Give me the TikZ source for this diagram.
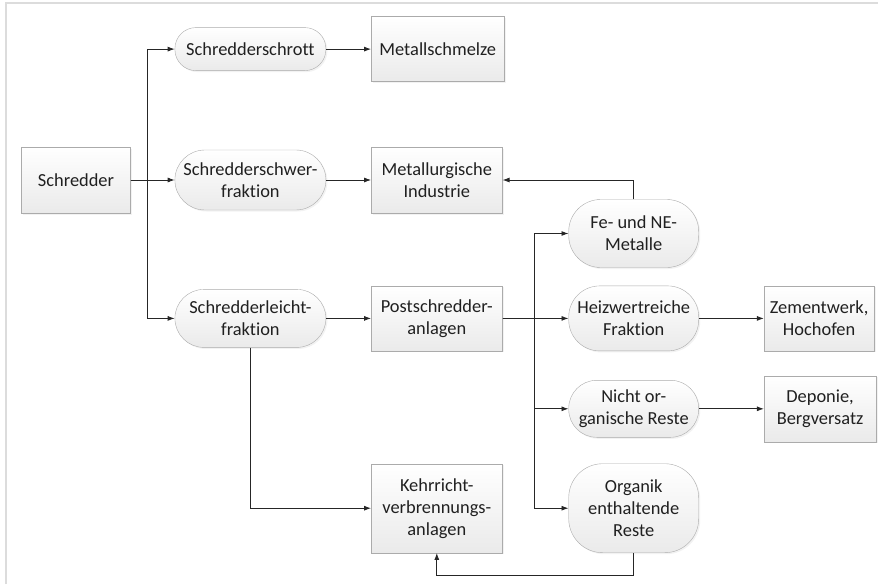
\documentclass[tikz,border=0pt]{standalone}
\usepackage{fontspec}
\setmainfont{Carlito}[Ligatures=NoCommon]
\usetikzlibrary{arrows.meta,positioning,shadows}

\definecolor{edgegray}{HTML}{ABABAB}
\definecolor{fillgray}{HTML}{EAEAEA}
\definecolor{textgray}{HTML}{202020}
\definecolor{framegray}{HTML}{DCDCDC}

\begin{document}
\begin{tikzpicture}[
    x=1pt, y=-1pt,
    box/.style={
      rectangle, draw=edgegray, top color=white, bottom color=fillgray,
      minimum width=131pt, minimum height=65pt, inner sep=2pt,
      align=center, text=textgray, font=\fontsize{18.4}{22}\selectfont,
      drop shadow={shadow xshift=1.5pt, shadow yshift=-1.5pt, fill=gray!20}
    },
    pill/.style={box, minimum width=130pt, rounded corners=#1},
    pill/.default=29pt,
    arrow/.style={-{Latex[length=7pt,width=5pt]}, line width=0.9pt, black!85}
  ]
  \useasboundingbox (0,0) rectangle (878,584);
  \draw[framegray, line width=1.5pt] (6,584) -- (6,3) -- (878,3);
  % Nodes -- left column
  \node[box, minimum width=109pt, minimum height=66pt] at (76,180) (schredder) {Schredder};
  % fractions
  \node[pill=30pt, minimum width=151pt, minimum height=60pt, right=44pt of schredder] (schwer) {Schredderschwer-\\fraktion};
  \node[pill=21pt, minimum width=151pt, minimum height=43pt, above=79pt of schwer] (schrott) {Schredderschrott};
  \node[pill, minimum width=151pt, minimum height=58pt, below=79pt of schwer] (leicht) {Schredderleicht-\\fraktion};
  % plants
  \node[box, minimum width=133pt, right=45pt of schrott] (schmelze) {Metallschmelze};
  \node[box, minimum height=66pt, right=45pt of schwer] (metind) {Metallurgische\\Industrie};
  \node[box, right=45pt of leicht] (post) {Postschredder-\\anlagen};
  % output of postschredder
  \node[pill=31pt, right=66pt of post] (heiz) {Heizwertreiche\\Fraktion};
  \node[pill=32pt, minimum height=68pt, above=18pt of heiz] (fe) {Fe- und NE-\\Metalle};
  \node[pill=28pt, minimum height=57pt, below=29pt of heiz] (nicht) {Nicht or-\\ganische Reste};
  \node[pill=34pt, minimum height=89pt, below=26pt of nicht] (organik) {Organik\\enthaltende\\Reste};
  % final destinations
  \node[box, minimum width=110pt, right=65pt of heiz] (zement) {Zementwerk,\\Hochofen};
  \node[box, minimum width=112pt, minimum height=66pt, right=65pt of nicht] (deponie) {Deponie,\\Bergversatz};
  \node[box, minimum height=89pt, left=66pt of organik] (kehr) {Kehrricht-\\verbrennungs-\\anlagen};
  % Arrows
  \draw[arrow] (schredder) -- (schwer);
  \draw[arrow] (schredder.east) -- ++(17,0) |- (schrott);
  \draw[arrow] (schredder.east) -- ++(17,0) |- (leicht);
  \draw[arrow] (schrott) -- (schmelze);
  \draw[arrow] (schwer) -- (metind);
  \draw[arrow] (leicht) -- (post);
  \draw[arrow] (leicht.south) |- (kehr);
  \draw[arrow] (post) -- (heiz);
  \draw[arrow] (post.east) -- ++(32,0) |- (fe);
  \draw[arrow] (post.east) -- ++(32,0) |- (nicht);
  \draw[arrow] (post.east) -- ++(32,0) |- (organik);
  \draw[arrow] (fe.north) |- (metind);
  \draw[arrow] (heiz) -- (zement);
  \draw[arrow] (nicht) -- (deponie);
  \draw[arrow] (organik.south) -- ++(0,23) -| (kehr.south);
\end{tikzpicture}
\end{document}
